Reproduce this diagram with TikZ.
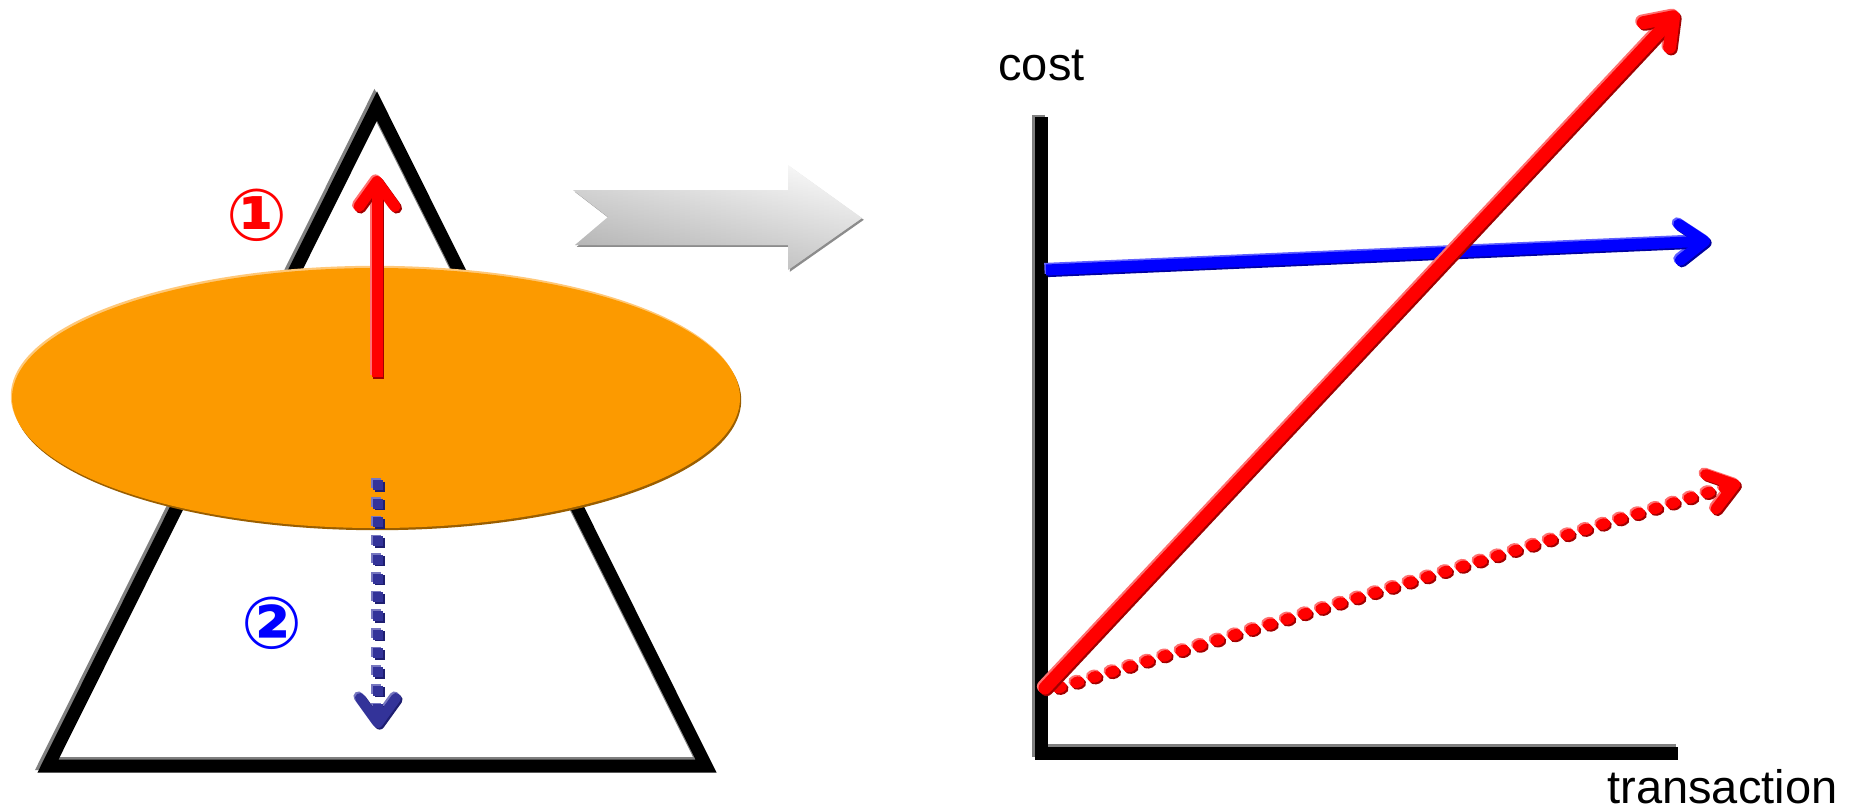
\documentclass[tikz,border=0pt]{standalone}
\usepackage{fontspec}
\setmainfont{Liberation Sans}
\newfontfamily\symfont{DejaVu Sans Bold}
\usetikzlibrary{arrows.meta,shapes.geometric}
\definecolor{orng}{HTML}{FC9A00}
\definecolor{orngdark}{HTML}{9A5E00}
\definecolor{ornglight}{HTML}{FFC878}
\definecolor{navy}{HTML}{333399}
\definecolor{navylight}{HTML}{7777C0}
\definecolor{navydark}{HTML}{1E1E70}
\definecolor{redlight}{HTML}{FF7070}
\definecolor{reddark}{HTML}{A00000}
\definecolor{bluelight}{HTML}{6060FF}
\definecolor{bluedark}{HTML}{0000A0}
\newcommand\bevdraw[5]{%
  \draw[#4,draw=#1,transform canvas={shift={(-1.6,-1.6)}}] #5;
  \draw[#4,draw=#2,transform canvas={shift={(1.6,1.6)}}] #5;
  \draw[#4,draw=#3] #5;}
\tikzset{
  thickline/.style={line width=6.5pt,line join=miter},
  barb/.style={-{Straight Barb[round,length=12.5pt,width=18pt]}},
  txt/.style={font=\fontsize{23.5pt}{28pt}\selectfont,inner sep=0pt},
  circnum/.style={font=\symfont\fontsize{36pt}{40pt}\selectfont,inner sep=0pt}
}
\begin{document}
\begin{tikzpicture}[x=0.5pt,y=-0.5pt]
\useasboundingbox (0,0) rectangle (1851,811);
% triangle
\coordinate (A) at (377,106);
\coordinate (BL) at (48,766);
\coordinate (BR) at (706,766);
\draw[thickline,gray,transform canvas={shift={(-2.5,-2.5)}}] (A) -- (BL) -- (BR) -- cycle;
\draw[thickline,black] (A) -- (BL) -- (BR) -- cycle;
% ellipse
\coordinate (E) at (376,398);
\fill[orngdark,transform canvas={shift={(1.2,2.2)}}] (E) ellipse [x radius=364, y radius=130];
\fill[ornglight,transform canvas={shift={(-1.2,-2.2)}}] (E) ellipse [x radius=364, y radius=130];
\fill[orng] (E) ellipse [x radius=364, y radius=130];
% arrow 1
\coordinate (u0) at (377,377);
\coordinate (u1) at (377,176);
\bevdraw{redlight}{reddark}{red}{line width=5.5pt,barb}{(u0) -- (u1)}
% arrow 2 dotted
\coordinate (d0) at (378,480);
\coordinate (d1) at (378,728);
\bevdraw{navylight}{navydark}{navy}{line width=5pt,barb,dash pattern=on 5pt off 4.35pt}{(d0) -- (d1)}
% circled numbers
\node[circnum,text=red] (n1) at (257,215) {①};
\node[circnum,text=blue] (n2) at (272,623) {②};
% gray chevron arrow
\coordinate (g1) at (573,190);
\coordinate (g2) at (608,217);
\coordinate (g3) at (575,245);
\coordinate (g4) at (788,245);
\coordinate (g5) at (788,270);
\coordinate (g6) at (862,218);
\coordinate (g7) at (788,165);
\coordinate (g8) at (788,190);
\fill[black!45,transform canvas={shift={(1.8,1.8)}}] (g1) -- (g2) -- (g3) -- (g4) -- (g5) -- (g6) -- (g7) -- (g8) -- cycle;
\shade[left color=black!22, right color=white] (g1) -- (g2) -- (g3) -- (g4) -- (g5) -- (g6) -- (g7) -- (g8) -- cycle;
\shade[top color=white, bottom color=black!50, fill opacity=0.4] (g1) -- (g2) -- (g3) -- (g4) -- (g5) -- (g6) -- (g7) -- (g8) -- cycle;
% axes
\coordinate (ytop) at (1041,117);
\coordinate (org) at (1041,753);
\coordinate (xend) at (1678,753);
\draw[line width=6.5pt,gray,transform canvas={shift={(-2.5,-2.5)}}] (ytop) -- (org) -- (xend);
\draw[line width=6.5pt,black] (ytop) -- (org) -- (xend);
\node[txt,anchor=base west] (cost) at (998,80) {cost};
\node[txt,anchor=base west] (trans) at (1607,803) {transaction};
% blue arrow
\coordinate (b0) at (1046,270);
\coordinate (b1) at (1710,241);
\bevdraw{bluelight}{bluedark}{blue}{line width=5.5pt,barb}{(b0) -- (b1)}
% red dotted arrow
\coordinate (rd0) at (1058,688);
\coordinate (rd1) at (1740,483);
\bevdraw{redlight}{reddark}{red}{line width=5.5pt,line cap=round,barb,dash pattern=on 1.8pt off 7.35pt}{(rd0) -- (rd1)}
% red solid arrow
\coordinate (r0) at (1045,688);
\coordinate (r1) at (1678,12);
\bevdraw{redlight}{reddark}{red}{line width=6.5pt,line cap=round,barb}{(r0) -- (r1)}
\end{tikzpicture}
\end{document}
